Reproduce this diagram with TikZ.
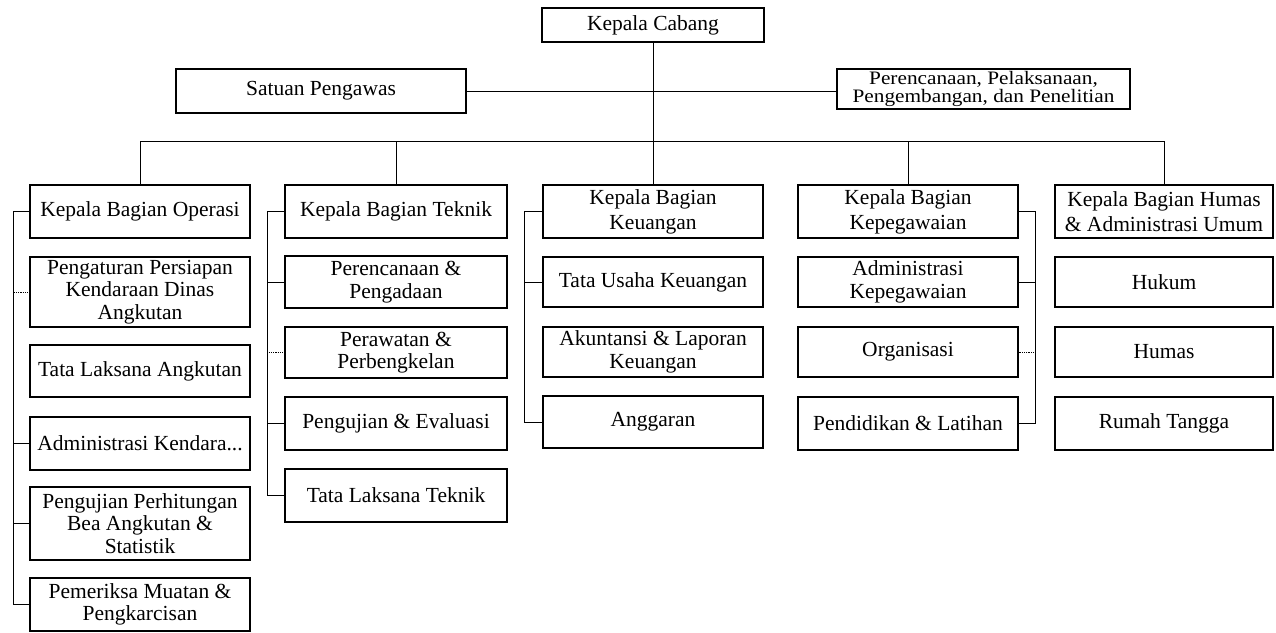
\documentclass[tikz,border=0pt]{standalone}
\usepackage{fontspec}
\setmainfont{Liberation Serif}
\usepackage{graphicx}
\begin{document}
\begin{tikzpicture}[x=1pt,y=-1pt,
  box/.style={draw, line width=1.1pt, rectangle, inner sep=0pt, align=center,
    font=\fontsize{21.5}{23}\selectfont},
  head/.style={box, font=\fontsize{21.5}{25}\selectfont, minimum height=53pt},
  sub/.style={box, font=\fontsize{21.5}{22.5}\selectfont},
  link/.style={line width=1pt},
  faint/.style={line width=0.8pt, densely dotted}]
\fill[white] (0,0) rectangle (1276,632);
\useasboundingbox (0,0) rectangle (1276,632);

% top level
\node[box, minimum width=222pt, minimum height=34pt] (kc) at (653,25) {Kepala Cabang};
\node[box, minimum width=290pt, minimum height=44pt] (sp) at (321,91) {Satuan Pengawas};
\node[box, minimum width=293pt, minimum height=40pt, font=\fontsize{19}{18}\selectfont] (pr) at (983.5,89)
  {\scalebox{1.12}[1]{Perencanaan, Pelaksanaan,}\\\scalebox{1.12}[1]{Pengembangan, dan Penelitian}};

% heads
\node[head, minimum width=220pt] (op) at (140,211.5) {Kepala Bagian Operasi};
\node[head, minimum width=222pt] (tk) at (396,211.5) {Kepala Bagian Teknik};
\node[head, minimum width=220pt] (ke) at (653,211.5) {Kepala Bagian\\Keuangan};
\node[head, minimum width=220pt] (kp) at (908,211.5) {Kepala Bagian\\Kepegawaian};
\node[head, minimum width=218pt] (hu) at (1164,211.5) {Kepala Bagian Humas\\\& Administrasi Umum};

% operasi
\node[sub, minimum width=220pt, minimum height=70pt] (op1) at (140,292) {Pengaturan Persiapan\\Kendaraan Dinas\\Angkutan};
\node[sub, minimum width=220pt, minimum height=52pt] (op2) at (140,371) {Tata Laksana Angkutan};
\node[sub, minimum width=220pt, minimum height=53pt] (op3) at (140,443.5) {Administrasi Kendara...};
\node[sub, minimum width=220pt, minimum height=73pt] (op4) at (140,523.5) {Pengujian Perhitungan\\Bea Angkutan \&\\Statistik};
\node[sub, minimum width=220pt, minimum height=53pt] (op5) at (140,604.5) {Pemeriksa Muatan \&\\Pengkarcisan};

% teknik
\node[sub, minimum width=222pt, minimum height=52pt] (tk1) at (396,282) {Perencanaan \&\\Pengadaan};
\node[sub, minimum width=222pt, minimum height=51pt] (tk2) at (396,352.5) {Perawatan \&\\Perbengkelan};
\node[sub, minimum width=222pt, minimum height=53pt] (tk3) at (396,423.5) {Pengujian \& Evaluasi};
\node[sub, minimum width=222pt, minimum height=53pt] (tk4) at (396,495.5) {Tata Laksana Teknik};

% keuangan
\node[sub, minimum width=220pt, minimum height=50pt] (ke1) at (653,282) {Tata Usaha Keuangan};
\node[sub, minimum width=220pt, minimum height=50pt] (ke2) at (653,352) {Akuntansi \& Laporan\\Keuangan};
\node[sub, minimum width=220pt, minimum height=52pt] (ke3) at (653,422) {Anggaran};

% kepegawaian
\node[sub, minimum width=220pt, minimum height=50pt] (kp1) at (908,282) {Administrasi\\Kepegawaian};
\node[sub, minimum width=220pt, minimum height=50pt] (kp2) at (908,352) {Organisasi};
\node[sub, minimum width=220pt, minimum height=53pt] (kp3) at (908,423.5) {Pendidikan \& Latihan};

% humas
\node[sub, minimum width=218pt, minimum height=50pt] (hu1) at (1164,282) {Hukum};
\node[sub, minimum width=218pt, minimum height=50pt] (hu2) at (1164,352) {Humas};
\node[sub, minimum width=218pt, minimum height=53pt] (hu3) at (1164,423.5) {Rumah Tangga};

% coordinates
\coordinate (bus) at (0,141);
\coordinate (spOp) at (13,0);
\coordinate (spTk) at (267,0);
\coordinate (spKe) at (524,0);
\coordinate (spKp) at (1035,0);

% top connectors
\draw[link] (kc.south) -- (ke.north);
\draw[link] (sp.east) -- (sp.east -| pr.west);
\draw[link] (op.north) -- (op.north |- bus) -- (hu.north |- bus) -- (hu.north);
\draw[link] (tk.north) -- (tk.north |- bus);
\draw[link] (kp.north) -- (kp.north |- bus);

% operasi
\draw[link] (op.west) -- (op.west -| spOp) |- (op5.west);
\draw[faint] (op1.west) -- (op1.west -| spOp);
\draw[link] (op3.west) -- (op3.west -| spOp);
\draw[link] (op4.west) -- (op4.west -| spOp);

% teknik
\draw[link] (tk.west) -- (tk.west -| spTk) |- (tk4.west);
\draw[link] (tk1.west) -- (tk1.west -| spTk);
\draw[faint] (tk2.west) -- (tk2.west -| spTk);
\draw[link] (tk3.west) -- (tk3.west -| spTk);

% keuangan
\draw[link] (ke.west) -- (ke.west -| spKe) |- (ke3.west);
\draw[link] (ke1.west) -- (ke1.west -| spKe);

% kepegawaian
\draw[link] (kp.east) -- (kp.east -| spKp) |- (kp3.east);
\draw[link] (kp1.east) -- (kp1.east -| spKp);
\draw[faint] (kp2.east) -- (kp2.east -| spKp);
\end{tikzpicture}
\end{document}
